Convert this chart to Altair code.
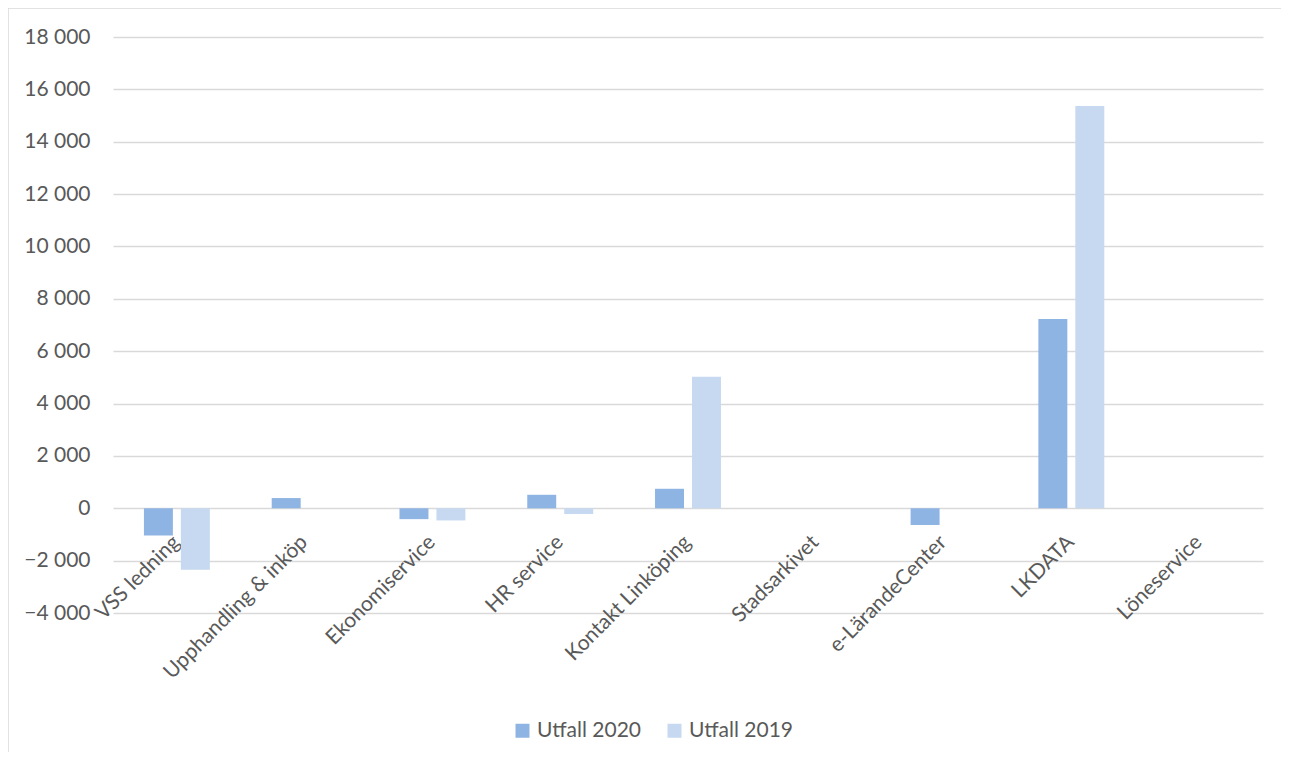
import altair as alt
import pandas as pd

categories = ["VSS ledning", "Upphandling & inköp", "Ekonomiservice", "HR service",
              "Kontakt Linköping", "Stadsarkivet", "e-LärandeCenter", "LKDATA", "Löneservice"]
utfall_2020 = [-1040, 390, -415, 515, 745, 0, -640, 7230, 0]
utfall_2019 = [-2350, 0, -465, -220, 5020, 0, 0, 15360, 0]
series = ["Utfall 2020", "Utfall 2019"]
colors = ["#8EB4E3", "#C6D9F1"]
y_ticks = list(range(-4000, 18001, 2000))

rows = []
for c, a, b in zip(categories, utfall_2020, utfall_2019):
    rows.append({"Kategori": c, "Serie": series[0], "Värde": a})
    rows.append({"Kategori": c, "Serie": series[1], "Värde": b})
df = pd.DataFrame(rows)

W, H = 1150, 576
PL, PT, PR, PB = 105, 29, 18, 139
FONT = "Lato"
TXT = "#595959"
GRID = "#D9D9D9"

bars = alt.Chart(df).mark_bar().encode(
    x=alt.X("Kategori:N", sort=categories,
            scale=alt.Scale(paddingInner=0.484, paddingOuter=0.242),
            axis=alt.Axis(title=None, labelAngle=-45, labelAlign="right",
                          labelBaseline="top", labelPadding=23, labelOffset=-8,
                          offset=-105, domain=False, ticks=False, grid=False,
                          labelLimit=0, labelFont=FONT, labelFontSize=21,
                          labelColor=TXT)),
    xOffset=alt.XOffset("Serie:N", sort=series,
                        scale=alt.Scale(paddingInner=0.216, paddingOuter=0)),
    y=alt.Y("Värde:Q", scale=alt.Scale(domain=[-4000, 18000], nice=False, zero=False),
            axis=alt.Axis(title=None, values=y_ticks, domain=False, ticks=False,
                          labelPadding=23, labelFont=FONT, labelFontSize=21,
                          labelColor=TXT, gridColor=GRID, gridWidth=1.5,
                          labelExpr="replace(format(datum.value, ','), ',', ' ')")),
    color=alt.Color("Serie:N", sort=series,
                    scale=alt.Scale(domain=series, range=colors),
                    legend=alt.Legend(title=None, orient="none", direction="horizontal",
                                      legendX=399, legendY=683, symbolType="square",
                                      symbolSize=196, symbolStrokeWidth=0,
                                      labelFont=FONT, labelFontSize=21, labelColor=TXT,
                                      labelOffset=4, columnPadding=22, padding=0,
                                      labelLimit=0)),
)

frame = alt.Chart(pd.DataFrame({"f": [0]})).mark_rect(
    fill=None, stroke=GRID, strokeWidth=1.5
).encode(
    x=alt.value(-105), x2=alt.value(W + 40),
    y=alt.value(-29), y2=alt.value(H + 200),
)

chart = alt.layer(frame, bars).properties(
    width=W, height=H,
    autosize=alt.AutoSizeParams(type="none"),
    padding={"left": PL, "top": PT, "right": PR, "bottom": PB},
).configure_view(stroke=None)

chart.save("out.html", embed_options={"renderer": "svg", "actions": False})
